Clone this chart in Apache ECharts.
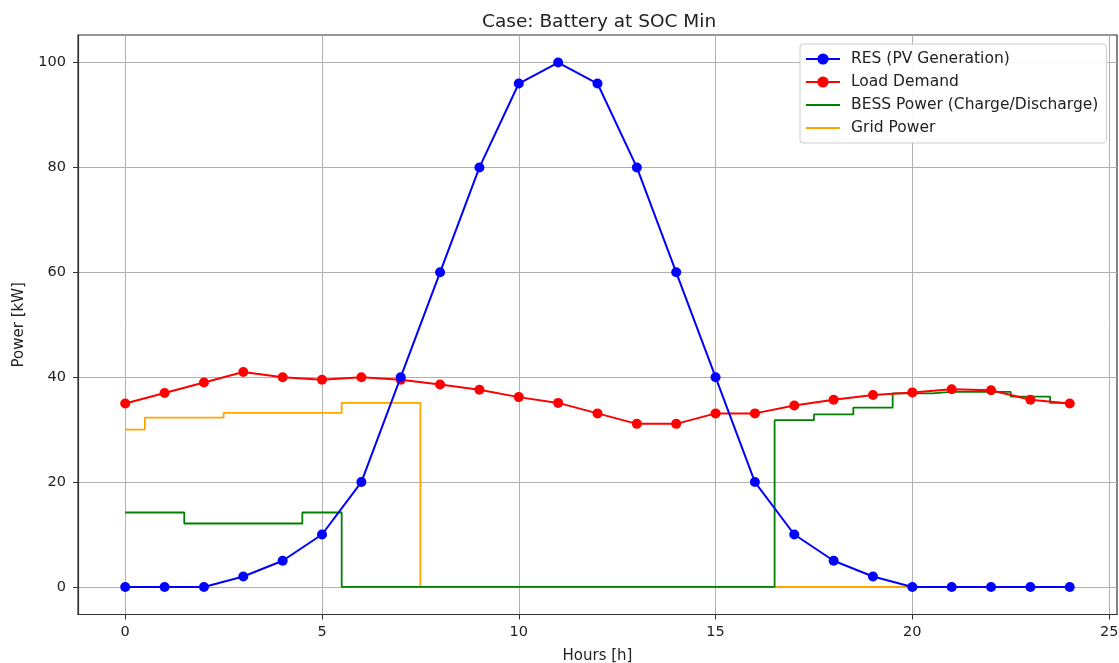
<!DOCTYPE html>
<html>
<head>
<meta charset="utf-8">
<script src="https://cdn.jsdelivr.net/npm/echarts@6/dist/echarts.min.js"></script>
<style>
html,body{margin:0;padding:0;background:#fff;}
#chart{width:1119px;height:663px;}
</style>
</head>
<body>
<div id="chart"></div>
<script>
const hours = [0,1,2,3,4,5,6,7,8,9,10,11,12,13,14,15,16,17,18,19,20,21,22,23,24];
const resPV = [0,0,0,2,5,10,20,40,60,80,96,100,96,80,60,40,20,10,5,2,0,0,0,0,0];
const loadDemand = [35,37,39,41,40,39.5,40,39.5,38.6,37.6,36.2,35.1,33.1,31.1,31.1,33.1,33.1,34.6,35.7,36.6,37.1,37.7,37.5,35.7,35];
const bessPower = [14.2,14.2,12.1,12.1,12.1,14.2,0,0,0,0,0,0,0,0,0,0,0,31.8,32.9,34.2,36.9,37.2,37.2,36.3,35.1];
const gridPower = [30,32.3,32.3,33.2,33.2,33.2,35.1,35.1,0,0,0,0,0,0,0,0,0,0,0,0,0,0,0,0,0];
const xTicks = [0,5,10,15,20,25];
const yTicks = [0,20,40,60,80,100];

const pair = (arr) => hours.map((h,i)=>[h,arr[i]]);
const font = 'DejaVu Sans';
const lineIcon = 'path://M0,0L0.01,0L0.01,0.01Z M0,6.1L34,6.1L34,7.9L0,7.9Z M0,14L0.01,14L0.01,13.99Z';

const chart = echarts.init(document.getElementById('chart'), null, {renderer:'canvas'});
chart.setOption({
  animation:false,
  backgroundColor:'#fff',
  title:{
    text:'Case: Battery at SOC Min',
    left:477, top:8,
    textStyle:{fontFamily:font,fontSize:18.5,fontWeight:'normal',color:'#222'}
  },
  legend:{
    orient:'vertical',
    left:800, top:44,
    itemWidth:34, itemHeight:14, itemGap:7,
    padding:[7,8,7,5],
    backgroundColor:'rgba(255,255,255,0.9)',
    borderColor:'#cccccc', borderWidth:1, borderRadius:3,
    textStyle:{fontFamily:font,fontSize:15.5,color:'#222',padding:[0,0,0,6]},
    data:[
      {name:'RES (PV Generation)'},
      {name:'Load Demand'},
      {name:'BESS Power (Charge/Discharge)', icon:lineIcon},
      {name:'Grid Power', icon:lineIcon}
    ]
  },
  grid:{
    left:78, right:2, top:35, bottom:48.5,
    show:true, borderColor:'#333', borderWidth:1.2,
    containLabel:false,
    outerBoundsMode:'none'
  },
  xAxis:{
    type:'value', min:-1.2, max:25.2,
    name:'Hours [h]', nameLocation:'middle', nameGap:34,
    nameTextStyle:{fontFamily:font,fontSize:15,color:'#222'},
    axisLine:{show:true,onZero:false,lineStyle:{color:'#333',width:1.2}},
    axisTick:{show:true,length:5,customValues:xTicks,lineStyle:{color:'#333'}},
    axisLabel:{customValues:xTicks,margin:10,fontFamily:font,fontSize:14.5,color:'#222'},
    splitLine:{show:true,lineStyle:{color:'#b0b0b0',width:1}}
  },
  yAxis:{
    type:'value', min:-5.25, max:105.25,
    name:'Power [kW]', nameLocation:'middle', nameGap:51, nameRotate:90,
    nameTextStyle:{fontFamily:font,fontSize:15,color:'#222'},
    axisLine:{show:true,onZero:false,lineStyle:{color:'#333',width:1.2}},
    axisTick:{show:true,length:5,customValues:yTicks,lineStyle:{color:'#333'}},
    axisLabel:{customValues:yTicks,margin:12,fontFamily:font,fontSize:14.5,color:'#222'},
    splitLine:{show:true,lineStyle:{color:'#b0b0b0',width:1}}
  },
  series:[
    {
      name:'RES (PV Generation)', type:'line', data:pair(resPV),
      symbol:'circle', symbolSize:10, showAllSymbol:true,
      lineStyle:{color:'#0000ff',width:2}, itemStyle:{color:'#0000ff'}, z:5
    },
    {
      name:'Load Demand', type:'line', data:pair(loadDemand),
      symbol:'circle', symbolSize:10, showAllSymbol:true,
      lineStyle:{color:'#ff0000',width:2}, itemStyle:{color:'#ff0000'}, z:4
    },
    {
      name:'BESS Power (Charge/Discharge)', type:'line', data:pair(bessPower),
      step:'middle', symbol:'none',
      lineStyle:{color:'#008000',width:1.8}, itemStyle:{color:'#008000'}, z:3
    },
    {
      name:'Grid Power', type:'line', data:pair(gridPower),
      step:'middle', symbol:'none',
      lineStyle:{color:'#ffa500',width:1.8}, itemStyle:{color:'#ffa500'}, z:2
    }
  ]
});
</script>
</body>
</html>
